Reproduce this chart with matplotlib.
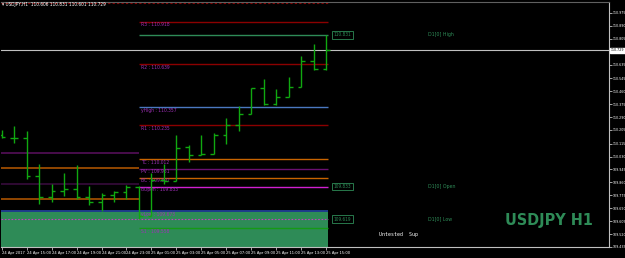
import matplotlib
matplotlib.use("Agg")
import matplotlib.pyplot as plt
import matplotlib.transforms as mtransforms
from matplotlib import font_manager

# hourly bars, 24 Apr 13:00 .. 25 Apr 15:00
bar_idx = list(range(27))
opens = [110.175, 110.155, 110.150, 109.902, 109.761, 109.804, 109.815, 109.767, 109.728,
         109.776, 109.797, 109.833, 109.640, 109.874, 109.872, 110.090, 110.038, 110.045,
         110.169, 110.241, 110.313, 110.482, 110.377, 110.424, 110.488, 110.656, 110.606]
highs = [110.205, 110.230, 110.197, 109.979, 109.848, 109.925, 109.974, 109.837, 109.789,
         109.804, 109.843, 109.837, 109.925, 109.979, 110.169, 110.103, 110.169, 110.187,
         110.285, 110.361, 110.482, 110.541, 110.475, 110.554, 110.693, 110.772, 110.831]
lows = [110.150, 110.121, 109.881, 109.717, 109.728, 109.771, 109.750, 109.710, 109.673,
        109.728, 109.750, 109.619, 109.636, 109.848, 109.870, 109.994, 110.038, 110.045,
        110.110, 110.197, 110.307, 110.372, 110.372, 110.420, 110.488, 110.597, 110.601]
closes = [110.160, 110.150, 109.902, 109.761, 109.804, 109.815, 109.767, 109.728, 109.776,
          109.797, 109.833, 109.640, 109.874, 109.872, 110.088, 110.038, 110.045, 110.169,
          110.241, 110.313, 110.482, 110.377, 110.424, 110.488, 110.656, 110.606, 110.729]

x_labels = ["24 Apr 2017", "24 Apr 15:00", "24 Apr 17:00", "24 Apr 19:00", "24 Apr 21:00",
            "24 Apr 23:00", "25 Apr 01:00", "25 Apr 03:00", "25 Apr 05:00", "25 Apr 07:00",
            "25 Apr 09:00", "25 Apr 11:00", "25 Apr 13:00", "25 Apr 15:00"]
y_ticks = [110.975, 110.890, 110.805, 110.635, 110.545, 110.460, 110.375, 110.290, 110.205,
           110.115, 110.030, 109.945, 109.860, 109.775, 109.690, 109.605, 109.520, 109.435]

# today's pivot levels
level_names = ["R3", "R2", "yHigh", "R1", "TC", "PV", "BC", "dOpen", "yLow", "S1"]
level_values = [110.918, 110.639, 110.357, 110.235, 110.012, 109.951, 109.892, 109.833, 109.673, 109.558]
level_colors = ["#8b0000", "#8b0000", "#4a78c0", "#8b0000", "#c86400", "#6a1070", "#c86400",
                "#d020d0", "#1e3c8c", "#159a15"]
# yesterday's levels (left segment)
prev_levels = [110.056, 109.953, 109.848, 109.750]
prev_colors = ["#5c1060", "#b85a00", "#3c0c40", "#b85a00"]

d1_names = ["D1[0] High", "D1[0] Open", "D1[0] Low"]
d1_values = [110.831, 109.833, 109.619]
last_price = 110.729

installed = {f.name for f in font_manager.fontManager.ttflist}
narrow = "Liberation Sans Narrow" if "Liberation Sans Narrow" in installed else "DejaVu Sans"
NF = dict(family=narrow, stretch="condensed")

fig = plt.figure(figsize=(6.25, 2.58), dpi=100, facecolor="black")
ax = fig.add_axes([1 / 625, 11 / 258, 608 / 625, 245 / 258], facecolor="black")
ax.set_xlim(-0.05, 48.64)
ax.set_ylim(109.4416, 111.0471)

day_start, day_end = 11, 26.1

# shaded zone under yesterday's low
ax.axhspan(109.40, level_values[8], xmin=0, xmax=(day_end + 0.05) / 48.69,
           color="#2e8b57", lw=0, zorder=1)
ax.hlines(level_values[8], -0.05, day_end, color="#1e3c8c", lw=1.4, zorder=2)
ax.hlines(d1_values[2], -0.05, day_end, color="#c040c0", lw=0.8, ls=(0, (1.5, 1.5)), zorder=2)
ax.hlines(111.043, -0.05, day_end, color="#8b0000", lw=0.8, ls=(0, (2, 2)), zorder=2)

for v, c in zip(prev_levels, prev_colors):
    ax.hlines(v, -0.05, day_start, color=c, lw=1.1, zorder=2)

for name, v, c in zip(level_names, level_values, level_colors):
    if name != "yLow":
        ax.hlines(v, day_start, day_end, color=c, lw=1.0, zorder=2)
    ax.text(day_start + 0.15, v - 0.005, f"{name} : {v:.3f}", color="#a030b8",
            fontsize=3.6, va="top", ha="left", zorder=3, **NF)

# D1 high line
ax.hlines(d1_values[0], day_start, day_end, color="#2e8b57", lw=1.0, zorder=2)

# current price line
ax.axhline(last_price, color="#c0c0c0", lw=0.8, zorder=2)

# OHLC bars
tick = 0.3
ax.vlines(bar_idx, lows, highs, color="#10a810", lw=1.0, zorder=4)
ax.hlines(opens, [i - tick for i in bar_idx], bar_idx, color="#10a810", lw=1.0, zorder=4)
ax.hlines(closes, bar_idx, [i + tick for i in bar_idx], color="#10a810", lw=1.0, zorder=4)

# D1 boxes and labels
for name, v in zip(d1_names, d1_values):
    ax.text(26.6, v, f"{v:.3f}", color="#2e8b57", fontsize=3.4, va="center", ha="left",
            bbox=dict(boxstyle="square,pad=0.3", fc="black", ec="#2e8b57", lw=0.6), zorder=5, **NF)
    ax.text(34.15, v, name, color="#2e8b57", fontsize=3.8, va="center", ha="left", zorder=5, **NF)

ax.text(30.25, 109.516, "Untested  Sup", color="white", fontsize=3.6, family="DejaVu Sans Mono",
        va="center", ha="left")

fig.text(505 / 625, 1 - 221 / 258, "USDJPY H1", color="#2e8b57", fontsize=11.5,
         family=narrow, stretch="condensed", weight="bold", va="center", ha="left")
fig.text(2 / 625, 1 - 4.5 / 258, "\u25be USDJPY,H1  110.606 110.831 110.601 110.729",
         color="white", fontsize=3.4, va="center", ha="left", **NF)

# axes styling
ax.spines["left"].set_visible(False)
ax.spines["top"].set_color("#606060")
ax.spines["right"].set_color("#c0c0c0")
ax.spines["bottom"].set_color("#c0c0c0")
ax.yaxis.tick_right()
ax.set_yticks(y_ticks)
ax.set_yticklabels([f"{t:.3f}" for t in y_ticks], **NF)
ax.set_xticks(range(0, 27, 2))
ax.set_xticklabels(x_labels, ha="left", **NF)
ax.tick_params(axis="both", colors="#c0c0c0", labelcolor="white", labelsize=2.6, length=1.8, width=0.6)
ax.tick_params(axis="y", pad=0.6)
ax.tick_params(axis="x", pad=1, labelsize=3.0)

tr = mtransforms.blended_transform_factory(ax.transAxes, ax.transData)
ax.text(1.003, last_price, f"{last_price:.3f}", transform=tr, color="black", fontsize=2.6,
        va="center", ha="left", bbox=dict(boxstyle="square,pad=0.15", fc="white", ec="white"),
        zorder=6, clip_on=False, **NF)

fig.savefig("out.png", dpi=100, facecolor="black")
